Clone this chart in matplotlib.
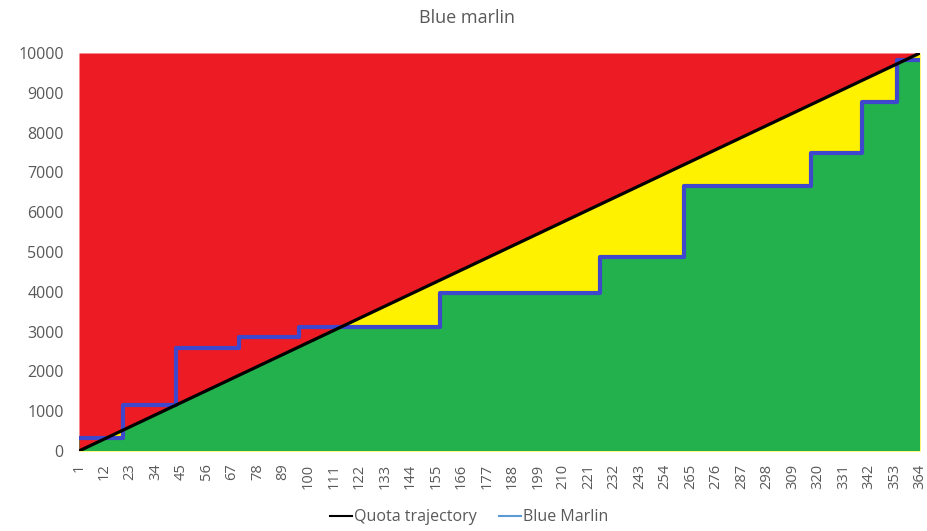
import numpy as np
import matplotlib.pyplot as plt
from matplotlib.lines import Line2D

plt.rcParams['font.family'] = ['Open Sans', 'DejaVu Sans']

# Cumulative blue marlin catch: day on which each new level starts
step_days = [1, 20, 43, 70, 96, 157, 226, 262, 317, 339, 354]
step_levels = [320, 1160, 2590, 2860, 3120, 3970, 4870, 6660, 7490, 8770, 9820]
last_day = 364

# Quota trajectory runs straight from day 1 to the full quota
quota_days = [1, 364]
quota_values = [0, 10000]

tick_days = list(range(1, 365, 11))
y_ticks = list(range(0, 10001, 1000))

days = np.append(step_days, last_day)
levels = np.append(step_levels, step_levels[-1])

red = '#ED1C24'
yellow = '#FFF200'
green = '#22B14C'
text_gray = '#595959'

fig = plt.figure(figsize=(9.27, 5.31), dpi=100)
ax = fig.add_axes([0.0852, 0.1507, 0.9073, 0.7495])

# Yellow under the quota, green under the catch, red above the quota line
ax.fill_between(quota_days, quota_values, 0, color=yellow, lw=0, zorder=1)
ax.fill_between(days, levels, 0, step='post', color=green, lw=0, zorder=2)
ax.fill_between(quota_days, quota_values, 10000, color=red, lw=0, zorder=3)

ax.plot(quota_days, quota_values, color='black', lw=2.3, zorder=5)
ax.step(days, levels, where='post', color='#3F48CC', lw=3, zorder=4)

ax.set_xlim(1, last_day)
ax.set_ylim(0, 10000)
ax.set_xticks(tick_days)
ax.set_xticklabels([str(d) for d in tick_days], rotation=90)
ax.set_yticks(y_ticks)
ax.tick_params(length=0, colors=text_gray)
ax.tick_params(axis='y', pad=11, labelsize=11.5)
ax.tick_params(axis='x', pad=9, labelsize=10.5)
for s in ax.spines.values():
    s.set_visible(False)

fig.text(0.504, 0.966, 'Blue marlin', ha='center', va='center',
         fontsize=13, color=text_gray)

handles = [Line2D([], [], color='black', lw=1.5),
           Line2D([], [], color='#5B9BD5', lw=1.5)]
fig.legend(handles, ['Quota trajectory', 'Blue Marlin'], loc='center',
           bbox_to_anchor=(0.506, 0.026), ncol=2, frameon=False,
           fontsize=11.5, labelcolor=text_gray, handlelength=1.4,
           handletextpad=0.1, columnspacing=1.4)

fig.savefig('out.png', dpi=100)
